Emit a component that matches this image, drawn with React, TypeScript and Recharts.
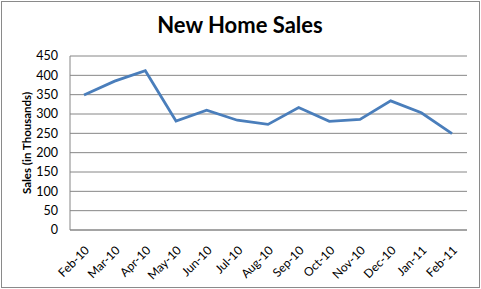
import { CartesianGrid, Line, LineChart, XAxis, YAxis } from "recharts";

const months = [
  "Feb-10", "Mar-10", "Apr-10", "May-10", "Jun-10", "Jul-10", "Aug-10",
  "Sep-10", "Oct-10", "Nov-10", "Dec-10", "Jan-11", "Feb-11",
];
const sales = [349, 385, 412, 282, 310, 284, 273, 317, 281, 286, 334, 303, 249];
const yTicks = [0, 50, 100, 150, 200, 250, 300, 350, 400, 450];

const data = months.map((month, i) => ({ month, sales: sales[i] }));

const font = "Lato, 'Open Sans', sans-serif";

export default function App() {
  return (
    <div style={{ position: "absolute", left: 0, top: 0, width: 481, height: 289, background: "#fff" }}>
      <div
        style={{
          position: "absolute",
          left: 1,
          top: 1,
          width: 479,
          height: 287,
          boxSizing: "border-box",
          border: "1px solid #8a8a8a",
        }}
      />
      <svg style={{ position: "absolute", left: 0, top: 0 }} width={481} height={50}>
        <text x={240} y={33} textAnchor="middle" fontFamily={font} fontWeight="bold" fontSize={22} fill="#000">
          New Home Sales
        </text>
      </svg>
      <div style={{ position: "absolute", left: 0, top: 0 }}>
        <LineChart width={481} height={289} data={data} margin={{ top: 56, right: 14, bottom: 0, left: 0 }}>
          <CartesianGrid stroke="#868686" vertical={false} />
          <XAxis
            dataKey="month"
            height={59}
            padding={{ left: 14, right: 15 }}
            stroke="#868686"
            tickLine={false}
            interval={0}
            angle={-45}
            textAnchor="end"
            tick={{ fill: "#000", fontSize: 12, fontFamily: font }}
            tickMargin={9}
          />
          <YAxis
            width={70}
            domain={[0, 450]}
            ticks={yTicks}
            interval={0}
            stroke="#868686"
            tickLine={false}
            tickSize={0}
            tickMargin={12}
            tick={{ fill: "#000", fontSize: 12.5, fontFamily: font }}
            label={{
              value: "Sales (in Thousands)",
              angle: -90,
              position: "center",
              dx: -8,
              fill: "#000",
              fontSize: 11.5,
              fontWeight: "bold",
              fontFamily: font,
            }}
          />
          <Line
            type="linear"
            dataKey="sales"
            stroke="#4A7EBB"
            strokeWidth={2.75}
            dot={false}
            isAnimationActive={false}
          />
        </LineChart>
      </div>
    </div>
  );
}
